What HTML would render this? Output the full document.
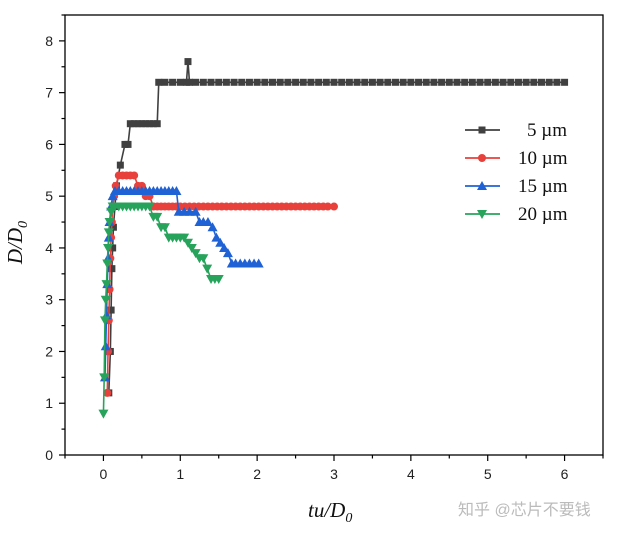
<!DOCTYPE html>
<html><head><meta charset="utf-8"><style>
body{margin:0;background:#fff;}
svg text{font-family:"Liberation Sans",sans-serif;}
svg text.leg{font-family:"Liberation Serif",serif;}
</style></head><body>
<svg id="c" width="627" height="533" xmlns="http://www.w3.org/2000/svg"></svg>
<script>
const xTicks=[0,1,2,3,4,5,6];
const yTicks=[0,1,2,3,4,5,6,7,8];
const seriesNames=["5 µm","10 µm","15 µm","20 µm"];
const s5x=[0.07,0.09,0.1,0.11,0.12,0.13,0.15,0.17,0.22,0.28,0.32,0.35,0.4,0.45,0.5,0.55,0.6,0.65,0.7,0.72,0.8,0.9,1.0,1.08,1.1,1.12,1.2,1.3,1.4,1.5,1.6,1.7,1.8,1.9,2.0,2.1,2.2,2.3,2.4,2.5,2.6,2.7,2.8,2.9,3.0,3.1,3.2,3.3,3.4,3.5,3.6,3.7,3.8,3.9,4.0,4.1,4.2,4.3,4.4,4.5,4.6,4.7,4.8,4.9,5.0,5.1,5.2,5.3,5.4,5.5,5.6,5.7,5.8,5.9,6.0];
const s5y=[1.2,2.0,2.8,3.6,4.0,4.4,4.8,5.2,5.6,6.0,6.0,6.4,6.4,6.4,6.4,6.4,6.4,6.4,6.4,7.2,7.2,7.2,7.2,7.2,7.6,7.2,7.2,7.2,7.2,7.2,7.2,7.2,7.2,7.2,7.2,7.2,7.2,7.2,7.2,7.2,7.2,7.2,7.2,7.2,7.2,7.2,7.2,7.2,7.2,7.2,7.2,7.2,7.2,7.2,7.2,7.2,7.2,7.2,7.2,7.2,7.2,7.2,7.2,7.2,7.2,7.2,7.2,7.2,7.2,7.2,7.2,7.2,7.2,7.2,7.2];
const s10x=[0.05,0.06,0.07,0.08,0.09,0.1,0.11,0.12,0.14,0.16,0.2,0.25,0.3,0.35,0.4,0.45,0.5,0.55,0.6,0.65,0.7,0.75,0.8,0.85,0.9,0.95,1.0,1.06,1.12,1.18,1.24,1.3,1.36,1.42,1.48,1.54,1.6,1.66,1.72,1.78,1.84,1.9,1.96,2.02,2.08,2.14,2.2,2.26,2.32,2.38,2.44,2.5,2.56,2.62,2.68,2.74,2.8,2.86,2.92,3.0];
const s10y=[1.2,2.0,2.6,3.2,3.8,4.2,4.5,4.8,5.0,5.2,5.4,5.4,5.4,5.4,5.4,5.2,5.2,5.0,5.0,4.8,4.8,4.8,4.8,4.8,4.8,4.8,4.8,4.8,4.8,4.8,4.8,4.8,4.8,4.8,4.8,4.8,4.8,4.8,4.8,4.8,4.8,4.8,4.8,4.8,4.8,4.8,4.8,4.8,4.8,4.8,4.8,4.8,4.8,4.8,4.8,4.8,4.8,4.8,4.8,4.8];
const s15x=[0.02,0.03,0.04,0.05,0.06,0.07,0.08,0.1,0.12,0.15,0.2,0.25,0.3,0.35,0.4,0.45,0.5,0.55,0.6,0.65,0.7,0.75,0.8,0.85,0.9,0.95,0.98,1.05,1.12,1.2,1.25,1.3,1.36,1.42,1.47,1.52,1.57,1.62,1.67,1.72,1.78,1.84,1.9,1.96,2.02];
const s15y=[1.5,2.1,2.7,3.3,3.8,4.2,4.5,4.8,5.0,5.1,5.1,5.1,5.1,5.1,5.1,5.1,5.1,5.1,5.1,5.1,5.1,5.1,5.1,5.1,5.1,5.1,4.7,4.7,4.7,4.7,4.5,4.5,4.5,4.4,4.2,4.1,4.0,3.9,3.7,3.7,3.7,3.7,3.7,3.7,3.7];
const s20x=[0.0,0.01,0.02,0.03,0.04,0.05,0.06,0.07,0.08,0.1,0.12,0.15,0.2,0.25,0.3,0.35,0.4,0.45,0.5,0.55,0.6,0.65,0.7,0.75,0.8,0.85,0.9,0.95,1.0,1.05,1.1,1.15,1.2,1.25,1.3,1.35,1.4,1.45,1.5];
const s20y=[0.8,1.5,2.6,3.0,3.3,3.7,4.0,4.3,4.5,4.7,4.8,4.8,4.8,4.8,4.8,4.8,4.8,4.8,4.8,4.8,4.8,4.6,4.6,4.4,4.4,4.2,4.2,4.2,4.2,4.2,4.1,4.0,3.9,3.8,3.8,3.6,3.4,3.4,3.4];
const colors=["#404040","#e8413c","#1f62d6","#27a35b"];
const L=65,R=603,T=15,B=455,XMIN=-0.5,XMAX=6.5,YMIN=0,YMAX=8.5;
const X=v=>L+(v-XMIN)/(XMAX-XMIN)*(R-L);
const Y=v=>B-(v-YMIN)/(YMAX-YMIN)*(B-T);
const svg=document.getElementById('c');
const NS="http://www.w3.org/2000/svg";
function mk(t,a,p){const e=document.createElementNS(NS,t);for(const k in a)e.setAttribute(k,a[k]);(p||svg).appendChild(e);return e;}
const frame=mk('rect',{x:L,y:T,width:R-L,height:B-T,fill:'none',stroke:'#000','stroke-width':1.3});


for(let v=-0.5;v<=6.51;v+=0.5){const maj=Math.abs(v-Math.round(v))<0.01;
 const t=mk('line',{x1:X(v),x2:X(v),y1:B,y2:B+(maj?6:3.5),stroke:'#000','stroke-width':1.2});
 
 }
xTicks.forEach(v=>{const t=mk('text',{x:X(v),y:B+24,'text-anchor':'middle','font-size':14,fill:'#222'});t.textContent=v;
 
 });
for(let v=0;v<=8.51;v+=0.5){const maj=Math.abs(v-Math.round(v))<0.01;
 const t=mk('line',{x1:L,x2:L-(maj?6:3.5),y1:Y(v),y2:Y(v),stroke:'#000','stroke-width':1.2});
 
 }
yTicks.forEach(v=>{const t=mk('text',{x:L-12,y:Y(v)+5,'text-anchor':'end','font-size':14,fill:'#222'});t.textContent=v;
 
 });
function marker(type,cx,cy,col,g){
 if(type===0)return mk('rect',{x:cx-3.5,y:cy-3.5,width:7,height:7,fill:col},g);
 if(type===1)return mk('circle',{cx:cx,cy:cy,r:4,fill:col},g);
 if(type===2)return mk('polygon',{points:`${cx},${cy-5} ${cx-5},${cy+4} ${cx+5},${cy+4}`,fill:col},g);
 return mk('polygon',{points:`${cx},${cy+5} ${cx-5},${cy-4} ${cx+5},${cy-4}`,fill:col},g);
}
const all=[[s5x,s5y],[s10x,s10y],[s15x,s15y],[s20x,s20y]];
[0,1,2,3].forEach(i=>{
 const [xs,ys]=all[i];
 const g=mk('g',{});
 
 
 const pts=xs.map((x,k)=>X(x)+','+Y(ys[k])).join(' ');
 mk('polyline',{points:pts,fill:'none',stroke:colors[i],'stroke-width':1.6},g);
 xs.forEach((x,k)=>{const m=marker(i,X(x),Y(ys[k]),colors[i],g);
  
  });
});
seriesNames.forEach((n,i)=>{
 const y=130+i*28;
 const g=mk('g',{});
 
 
 mk('line',{x1:465,x2:500,y1:y,y2:y,stroke:colors[i],'stroke-width':1.8},g);
 marker(i,482,y,colors[i],g);
 const t=mk('text',{x:n.startsWith('5')?527:518,y:y+6,'font-size':19,fill:'#111','class':'leg'},g);
 t.textContent=n;
});
</script>
<div style="position:absolute;left:308px;top:498px;font:italic 21px 'Liberation Serif',serif;color:#111;">tu/D<sub style="font-size:14px">0</sub></div>
<div style="position:absolute;left:-4px;top:228px;transform:rotate(-90deg);font:italic 21px 'Liberation Serif',serif;color:#111;">D/D<sub style="font-size:14px">0</sub></div>
<div style="position:absolute;left:458px;top:496px;font:16px 'Liberation Sans','Noto Sans CJK SC',sans-serif;color:#bbb;">知乎 @芯片不要钱</div>
</body></html>
